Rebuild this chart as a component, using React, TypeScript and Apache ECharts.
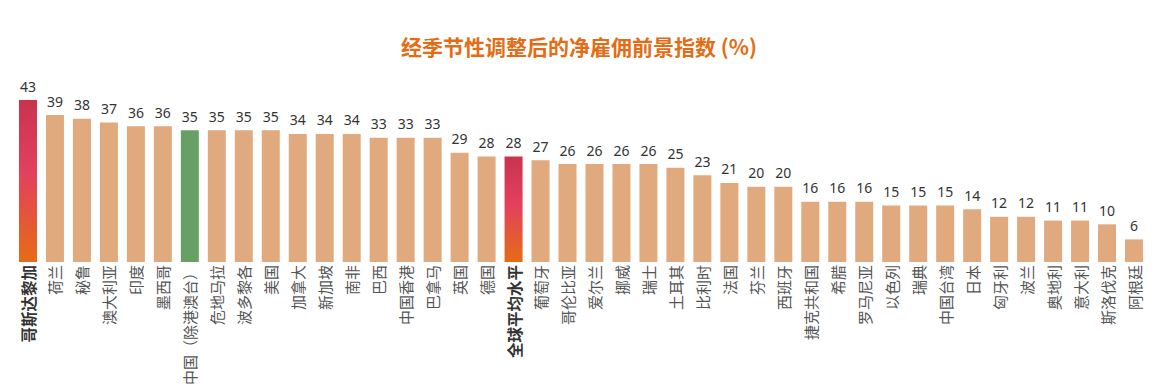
import React, { useEffect, useRef } from "react";
import * as echarts from "echarts";

const categories = [
  "哥斯达黎加", "荷兰", "秘鲁", "澳大利亚", "印度", "墨西哥", "中国（除港澳台）", "危地马拉", "波多黎各", "美国",
  "加拿大", "新加坡", "南非", "巴西", "中国香港", "巴拿马", "英国", "德国", "全球平均水平", "葡萄牙",
  "哥伦比亚", "爱尔兰", "挪威", "瑞士", "土耳其", "比利时", "法国", "芬兰", "西班牙", "捷克共和国",
  "希腊", "罗马尼亚", "以色列", "瑞典", "中国台湾", "日本", "匈牙利", "波兰", "奥地利", "意大利",
  "斯洛伐克", "阿根廷",
];
const values = [
  43, 39, 38, 37, 36, 36, 35, 35, 35, 35,
  34, 34, 34, 33, 33, 33, 29, 28, 28, 27,
  26, 26, 26, 26, 25, 23, 21, 20, 20, 16,
  16, 16, 15, 15, 15, 14, 12, 12, 11, 11,
  10, 6,
];
const highlighted = ["哥斯达黎加", "全球平均水平"];
const greenCategory = "中国（除港澳台）";
const title = "经季节性调整后的净雇佣前景指数 (%)";

export default function App() {
  const ref = useRef<HTMLDivElement>(null);
  useEffect(() => {
    if (!ref.current) return;
    const chart = echarts.init(ref.current, undefined, { renderer: "svg" });
    const gradient = new echarts.graphic.LinearGradient(0, 0, 0, 1, [
      { offset: 0, color: "#C9334E" },
      { offset: 0.45, color: "#E3405E" },
      { offset: 1, color: "#E56C14" },
    ]);
    const data = values.map((v, i) => {
      const c = categories[i];
      let color: any = "#E0AA7E";
      if (highlighted.includes(c)) color = gradient;
      else if (c === greenCategory) color = "#66A066";
      return { value: v, itemStyle: { color } };
    });
    chart.setOption({
      animation: false,
      title: {
        text: title,
        left: "center",
        top: 30,
        textStyle: {
          color: "#E46C14",
          fontSize: 21,
          fontWeight: "bold",
          fontFamily: "Noto Sans CJK SC",
        },
      },
      grid: { left: 14.5, right: 10.5, top: 100, bottom: 130, containLabel: false },
      xAxis: {
        type: "category",
        data: categories,
        axisLine: { show: false },
        axisTick: { show: false },
        axisLabel: {
          interval: 0,
          rotate: 90,
          margin: 3,
          fontSize: 15,
          fontFamily: "Noto Sans CJK SC",
          color: "#555",
          formatter: (v: string) => (highlighted.includes(v) ? `{b|${v}}` : v),
          rich: {
            b: {
              fontWeight: "bold",
              color: "#333",
              fontSize: 15.5,
              fontFamily: "Noto Sans CJK SC",
            },
          },
        },
      },
      yAxis: {
        type: "value",
        min: 0,
        max: 43,
        show: false,
        splitLine: { show: false },
      },
      series: [
        {
          type: "bar",
          data,
          barWidth: 18,
          label: {
            show: true,
            position: "top",
            distance: 7,
            color: "#333",
            fontSize: 14,
            fontFamily: "Noto Sans",
          },
        },
      ],
    });
    return () => chart.dispose();
  }, []);
  return (
    <div
      ref={ref}
      style={{ position: "absolute", left: 0, top: 0, width: 1158, height: 392 }}
    />
  );
}
